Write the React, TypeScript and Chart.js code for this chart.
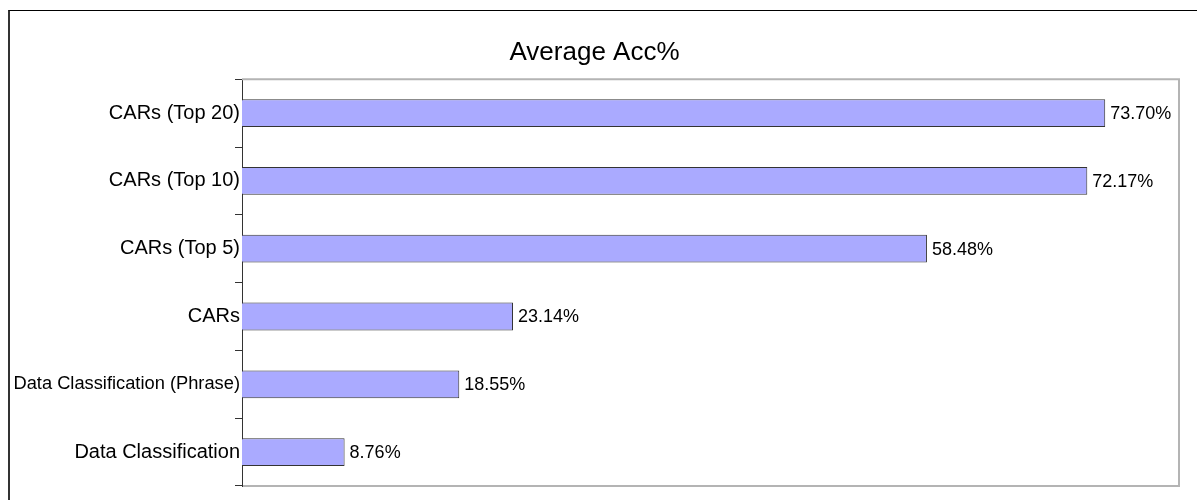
import { useEffect, useRef } from "react";
import { Chart, registerables } from "chart.js";

Chart.register(...registerables);

const chartTitle = "Average Acc%";
const categories = [
  "CARs (Top 20)",
  "CARs (Top 10)",
  "CARs (Top 5)",
  "CARs",
  "Data Classification (Phrase)",
  "Data Classification",
];
const accuracy = [73.7, 72.17, 58.48, 23.14, 18.55, 8.76];
const xMin = 0;
const xMax = 80;

const FONT = "'Liberation Sans', Arial, sans-serif";
const LABEL_SIZE = 20;
const LABEL_MAX_W = 228;

let measureCtx: CanvasRenderingContext2D | null = null;
function fitSize(text: string): number {
  if (!measureCtx) measureCtx = document.createElement("canvas").getContext("2d");
  if (!measureCtx) return LABEL_SIZE;
  measureCtx.font = `${LABEL_SIZE}px ${FONT}`;
  const w = measureCtx.measureText(text).width;
  return w > LABEL_MAX_W ? Math.floor((LABEL_SIZE * LABEL_MAX_W * 10) / w) / 10 : LABEL_SIZE;
}

export default function App() {
  const ref = useRef<HTMLCanvasElement>(null);

  useEffect(() => {
    const canvas = ref.current;
    if (!canvas) return;

    const plotFrame = {
      id: "plotFrame",
      beforeDatasetsDraw(chart: any) {
        const { ctx, chartArea: a } = chart;
        ctx.save();
        ctx.strokeStyle = "#b4b4b4";
        ctx.lineWidth = 2;
        ctx.beginPath();
        ctx.moveTo(a.left, a.top);
        ctx.lineTo(a.right, a.top);
        ctx.lineTo(a.right, a.bottom);
        ctx.lineTo(a.left + 1, a.bottom);
        ctx.stroke();
        ctx.restore();
      },
    };

    const valueLabels = {
      id: "valueLabels",
      afterDatasetsDraw(chart: any) {
        const { ctx } = chart;
        const meta = chart.getDatasetMeta(0);
        ctx.save();
        ctx.fillStyle = "#000";
        ctx.font = `18px ${FONT}`;
        ctx.textAlign = "left";
        ctx.textBaseline = "middle";
        meta.data.forEach((bar: any, i: number) => {
          const v = chart.data.datasets[0].data[i] as number;
          ctx.fillText(v.toFixed(2) + "%", bar.x + 5, bar.y + 1);
        });
        ctx.restore();
      },
    };

    const chart = new Chart(canvas, {
      type: "bar",
      data: {
        labels: categories,
        datasets: [
          {
            data: accuracy,
            backgroundColor: "#aaaaff",
            borderColor: "#333333",
            borderWidth: 1,
            categoryPercentage: 1,
            barPercentage: 0.41,
          },
        ],
      },
      options: {
        indexAxis: "y",
        responsive: false,
        animation: false,
        layout: { padding: { top: 0, right: 18, bottom: 14, left: 0 } },
        plugins: {
          legend: { display: false },
          tooltip: { enabled: false },
          title: {
            display: true,
            text: chartTitle,
            color: "#000",
            font: { family: FONT, size: 26, weight: "normal" },
            padding: { top: 26, bottom: 11 },
          },
        },
        scales: {
          x: { display: false, min: xMin, max: xMax },
          y: {
            grid: {
              offset: true,
              drawOnChartArea: false,
              drawTicks: true,
              tickLength: 7,
              color: "#333",
              lineWidth: 1,
            },
            border: { display: true, color: "#333", width: 1 },
            ticks: {
              color: "#000",
              font: (c: any) => ({
                family: FONT,
                size: fitSize(categories[c.index] ?? ""),
              }),
              padding: -5,
            },
            afterFit: (s: any) => {
              s.width = 232;
            },
          },
        },
      },
      plugins: [plotFrame, valueLabels],
    });

    return () => chart.destroy();
  }, []);

  return (
    <div
      style={{
        position: "absolute",
        left: 8,
        top: 10,
        width: 1200,
        height: 500,
        borderTop: "1px solid #000",
        borderLeft: "2px solid #333",
        background: "#fff",
      }}
    >
      <canvas ref={ref} width={1187} height={489} style={{ display: "block" }} />
    </div>
  );
}
